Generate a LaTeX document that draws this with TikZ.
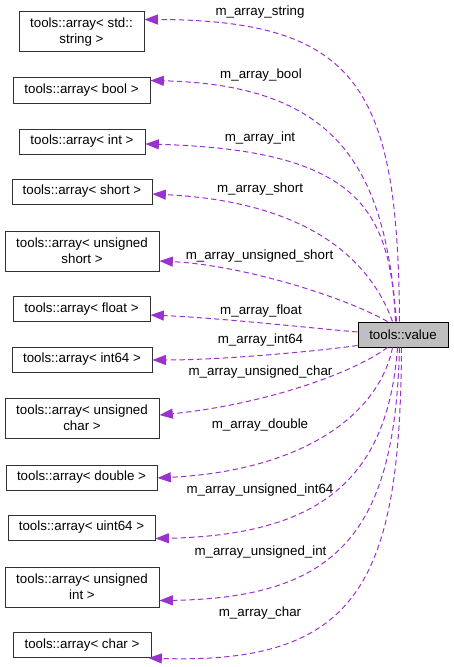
\documentclass[tikz,border=0pt]{standalone}
\usepackage{fontspec}
\setmainfont{Liberation Sans}
\usetikzlibrary{arrows.meta,calc}
\definecolor{edgec}{RGB}{154,50,205}
\definecolor{boxline}{RGB}{50,50,50}
\definecolor{valfill}{RGB}{191,191,191}
\begin{document}
\begin{tikzpicture}[x=0.75pt,y=-0.75pt,
  box/.style={draw=boxline,line width=0.75pt,fill=white,inner sep=0pt,align=center,font=\fontsize{10}{12}\selectfont},
  bw/.style={minimum width=#1*0.75pt},
  one/.style={minimum height=18.75pt},
  two/.style={minimum height=30pt},
  lbl/.style={font=\fontsize{10}{12}\selectfont,inner sep=0pt},
  edge/.style={draw=edgec,line width=0.75pt,dash pattern=on 4pt off 2.5pt,
    -{Triangle[length=10pt,width=7.5pt,fill=edgec]}}]
\useasboundingbox (0,0) rectangle (453,667);

\node[box,bw=125,two] (a1) at (81.5,32) {tools::array< std::\\string >};
\node[box,bw=137,one] (a2) at (81.5,90.5) {tools::array< bool >};
\node[box,bw=126,one] (a3) at (82,141.5) {tools::array< int >};
\node[box,bw=140,one] (a4) at (82,191.5) {tools::array< short >};
\node[box,bw=154,two] (a5) at (82,251) {tools::array< unsigned\\short >};
\node[box,bw=137,one] (a6) at (81.5,309) {tools::array< float >};
\node[box,bw=140,one] (a7) at (82,359.5) {tools::array< int64 >};
\node[box,bw=154,two] (a8) at (82,418) {tools::array< unsigned\\char >};
\node[box,bw=151,one] (a9) at (81.5,477.5) {tools::array< double >};
\node[box,bw=147,one] (a10) at (81.5,527.5) {tools::array< uint64 >};
\node[box,bw=154,two] (a11) at (82,587) {tools::array< unsigned\\int >};
\node[box,bw=138,one] (a12) at (82,645) {tools::array< char >};
\node[box,bw=90,one,draw=black,fill=valfill] (v) at (403,334.5) {tools::value};

\draw[edge] ($(v.north west)+(42,0)$) .. controls (398,90) and (360,20) .. ($(a1.north east)+(0,8)$);
\draw[edge] ($(v.north west)+(39,0)$) .. controls (385,170) and (340,85) .. ($(a2.north east)+(0,3)$);
\draw[edge] ($(v.north west)+(38,0)$) .. controls (390,210) and (360,150) .. ($(a3.east)+(0,2.5)$);
\draw[edge] ($(v.north west)+(35,0)$) .. controls (372,265) and (315,202) .. ($(a4.east)+(0,2.5)$);
\draw[edge] ($(v.north west)+(30,0)$) .. controls (340,295) and (240,265) .. ($(a5.east)+(0,10)$);
\draw[edge] ($(v.west)+(0,-2.5)$) .. controls (300,327) and (220,318) .. ($(a6.east)+(0,6)$);
\draw[edge] ($(v.south west)+(0,-2)$) .. controls (310,352) and (220,360) .. ($(a7.east)+(0,0.5)$);
\draw[edge] ($(v.south west)+(30,0)$) .. controls (350,375) and (260,405) .. ($(a8.east)+(0,-3)$);
\draw[edge] ($(v.south west)+(35,0)$) .. controls (380,410) and (310,470) .. ($(a9.east)+(0,0.5)$);
\draw[edge] ($(v.south west)+(40,0)$) .. controls (388,475) and (325,535) .. ($(a10.south east)+(0,-2)$);
\draw[edge] ($(v.south west)+(42,0)$) .. controls (395,530) and (340,598) .. ($(a11.south east)+(0,-7)$);
\draw[edge] ($(v.south west)+(44,0)$) .. controls (400,580) and (360,665) .. ($(a12.south east)+(-3,0)$);

\node[lbl] (l1) at (260,12) {m\_array\_string};
\node[lbl] (l2) at (261,75) {m\_array\_bool};
\node[lbl] (l3) at (260,138) {m\_array\_int};
\node[lbl] (l4) at (260,189) {m\_array\_short};
\node[lbl] (l5) at (259.5,256) {m\_array\_unsigned\_short};
\node[lbl] (l6) at (261,311) {m\_array\_float};
\node[lbl] (l7) at (260.5,340) {m\_array\_int64};
\node[lbl] (l8) at (260.5,372) {m\_array\_unsigned\_char};
\node[lbl] (l9) at (260,425) {m\_array\_double};
\node[lbl] (l10) at (260,490) {m\_array\_unsigned\_int64};
\node[lbl] (l11) at (260.5,552) {m\_array\_unsigned\_int};
\node[lbl] (l12) at (260,613) {m\_array\_char};
\end{tikzpicture}
\end{document}
